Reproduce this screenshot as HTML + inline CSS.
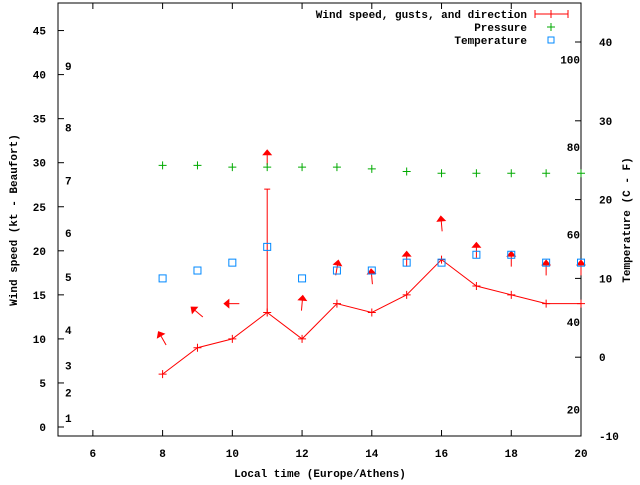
<!DOCTYPE html>
<html><head><meta charset="utf-8"><style>
body{margin:0;background:#fff;}
svg text{font-family:"Liberation Mono",monospace;font-size:11px;font-weight:bold;fill:#000;}
</style></head><body>
<svg id="chart" width="640" height="480" xmlns="http://www.w3.org/2000/svg">
<g id="axes"></g><g id="marks"></g>
</svg>
<script>
const hours=[8,9,10,11,12,13,14,15,16,17,18,19,20];
const windSpeed=[6,9,10,13,10,14,13,15,19,16,15,14,14];
const gustHours=[11];
const gustValues=[27];
const pressure=[29.7,29.7,29.5,29.5,29.5,29.5,29.3,29.0,28.8,28.8,28.8,28.8,28.8];
const temperature=[10,11,12,14,10,11,11,12,12,13,13,12,12];
const arrowLevel=[10,13,14,30.5,14,18,17,19,23,20,19,18,18];
const arrowHeading=[-30,-50,-90,0,5,10,-5,0,-5,0,0,0,0];
const xTicks=[6,8,10,12,14,16,18,20];
const yTicks=[0,5,10,15,20,25,30,35,40,45];
const tTicks=[-10,0,10,20,30,40];
const fTicks=[20,40,60,80,100];
const beaufortLabels=["1","2","3","4","5","6","7","8","9"];
const beaufortLevels=[1,3.9,7,11,17,22,28,34,41];

const L=58,R=581,T=3,B=436;
const X=h=>L+(h-5)*(R-L)/15;
const Y=v=>427-v*8.81;
const YT=c=>357.2-c*7.88;
const YF=f=>YT((f-32)*5/9);
const NS="http://www.w3.org/2000/svg";
const ax=document.getElementById('axes'), mk=document.getElementById('marks');
function el(p,t,a,txt){const e=document.createElementNS(NS,t);for(const k in a)e.setAttribute(k,a[k]);if(txt!==undefined)e.textContent=txt;p.appendChild(e);return e;}

let e=el(ax,'rect',{x:L,y:T,width:R-L,height:B-T,fill:'none',stroke:'#000'});


xTicks.forEach(h=>{
  el(ax,'line',{x1:X(h),x2:X(h),y1:B,y2:B-6,stroke:'#000'});
  el(ax,'line',{x1:X(h),x2:X(h),y1:T,y2:T+6,stroke:'#000'});
  const t=el(ax,'text',{x:X(h),y:B+21,'text-anchor':'middle'},h);
  
  
});
yTicks.forEach(v=>{
  el(ax,'line',{x1:L,x2:L+6,y1:Y(v),y2:Y(v),stroke:'#000'});
  const t=el(ax,'text',{x:L-12,y:Y(v)+4,'text-anchor':'end'},v);
  
  
});
tTicks.forEach(c=>{
  el(ax,'line',{x1:R,x2:R-6,y1:YT(c),y2:YT(c),stroke:'#000'});
  const t=el(ax,'text',{x:R+18,y:YT(c)+4,'text-anchor':'start'},c);
  
  
});
fTicks.forEach(f=>{
  const t=el(ax,'text',{x:R-1,y:YF(f)+4,'text-anchor':'end'},f);
  
  
});
beaufortLabels.forEach((b,i)=>{
  const t=el(ax,'text',{x:65,y:Y(beaufortLevels[i])+4},b);
  
  
});
e=el(ax,'text',{x:320,y:477,'text-anchor':'middle'},'Local time (Europe/Athens)');


e=el(ax,'text',{x:0,y:0,'text-anchor':'middle',transform:'translate(17,220) rotate(-90)'},'Wind speed (kt - Beaufort)');


e=el(ax,'text',{x:0,y:0,'text-anchor':'middle',transform:'translate(630,220) rotate(-90)'},'Temperature (C - F)');



// legend
e=el(ax,'text',{x:527,y:18,'text-anchor':'end'},'Wind speed, gusts, and direction');


el(ax,'line',{x1:535,x2:568,y1:14,y2:14,stroke:'#f00'});
el(ax,'line',{x1:535,x2:535,y1:10,y2:18,stroke:'#f00'});
el(ax,'line',{x1:568,x2:568,y1:10,y2:18,stroke:'#f00'});
el(ax,'line',{x1:551,x2:551,y1:10,y2:18,stroke:'#f00'});
e=el(ax,'text',{x:527,y:31,'text-anchor':'end'},'Pressure');


el(ax,'path',{d:'M547 27h8M551 23v8',stroke:'#0a0'});
e=el(ax,'text',{x:527,y:44,'text-anchor':'end'},'Temperature');


el(ax,'rect',{x:548,y:37,width:6,height:6,fill:'none',stroke:'#08f'});

// wind line
const pts=hours.map((h,i)=>X(h)+','+Y(windSpeed[i])).join(' ');
e=el(mk,'polyline',{points:pts,fill:'none',stroke:'#f00'});


hours.forEach((h,i)=>{
  const x=X(h),y=Y(windSpeed[i]);
  const p=el(mk,'path',{d:`M${x-4} ${y}h8M${x} ${y-4}v8`,stroke:'#f00'});
  
  
});
gustHours.forEach((h,i)=>{
  const x=X(h),y0=Y(windSpeed[hours.indexOf(h)]),y1=Y(gustValues[i]);
  const g=el(mk,'path',{d:`M${x} ${y0}V${y1}M${x-3} ${y1}h6`,stroke:'#f00'});
  
  
});
// direction arrows
hours.forEach((h,i)=>{
  const x=X(h),y=Y(arrowLevel[i]);
  const a=el(mk,'g',{transform:`translate(${x},${y}) rotate(${arrowHeading[i]})`});
  
  
  el(a,'line',{x1:0,y1:7,x2:0,y2:-4,stroke:'#f00'});
  el(a,'polygon',{points:'0,-9 -5,-3 5,-3',fill:'#f00'});
});
hours.forEach((h,i)=>{
  const x=X(h),y=Y(pressure[i]);
  const p=el(mk,'path',{d:`M${x-4} ${y}h8M${x} ${y-4}v8`,stroke:'#0a0'});
  
  
});
hours.forEach((h,i)=>{
  const x=X(h),y=YT(temperature[i]);
  const r=el(mk,'rect',{x:x-3.5,y:y-3.5,width:7,height:7,fill:'none',stroke:'#08f'});
  
  
});
</script>
</body></html>
